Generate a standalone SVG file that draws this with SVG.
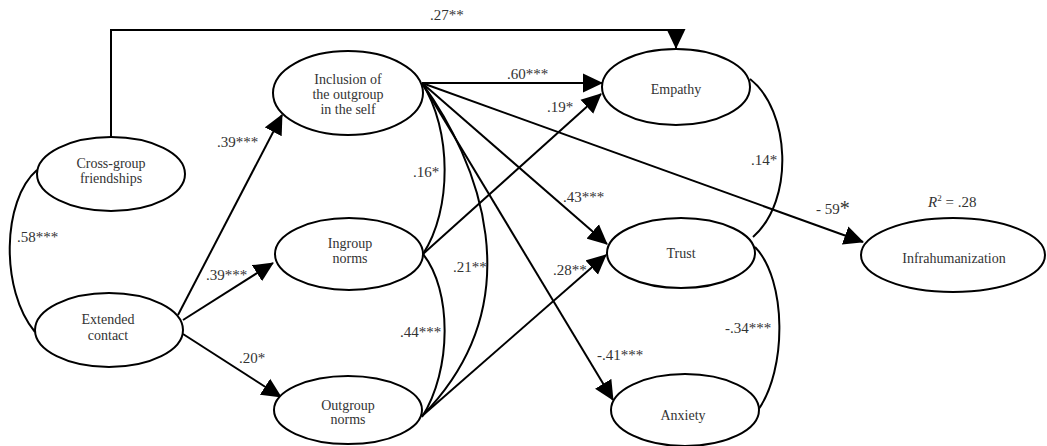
<svg xmlns="http://www.w3.org/2000/svg" width="1047" height="446" viewBox="0 0 1047 446">
<style>
.node ellipse{fill:#fff;stroke:#000;stroke-width:2}
.node text{font-family:"Liberation Serif","Times New Roman",serif;font-size:14px;fill:#333;text-anchor:middle}
.lbl{font-family:"Liberation Serif","Times New Roman",serif;font-size:15px;fill:#333}
.edge{fill:none;stroke:#000;stroke-width:2}
.arr{marker-end:url(#ah)}
</style>
<defs>
<marker id="ah" viewBox="0 0 20 20" markerWidth="20" markerHeight="20" markerUnits="userSpaceOnUse" refX="19" refY="10" orient="auto">
<path d="M0,0.5 L20,10 L0,19.5 z" fill="#000"/>
</marker>
</defs>
<rect width="1047" height="446" fill="#fff"/>
<g id="connectors">
<path class="edge arr" d="M111,137 V30 H676 V48"/>
<path class="edge" d="M37,170 C2,200 0,290 35,332"/>
<line class="edge arr" x1="178" y1="315" x2="282" y2="115"/>
<line class="edge arr" x1="183" y1="320" x2="273" y2="263"/>
<line class="edge arr" x1="183" y1="334" x2="281" y2="397"/>
<line class="edge arr" x1="422" y1="83" x2="602" y2="83"/>
<line class="edge arr" x1="422" y1="83" x2="863" y2="242"/>
<line class="edge arr" x1="422" y1="83" x2="607" y2="244"/>
<line class="edge arr" x1="422" y1="83" x2="613" y2="400"/>
<path class="edge" d="M422,83 C452,130 452,210 423,254"/>
<path class="edge" d="M422,83 C478,160 535,300 423,415"/>
<path class="edge" d="M423,254 C452,290 452,370 422,417"/>
<line class="edge arr" x1="423" y1="254" x2="601" y2="94"/>
<line class="edge arr" x1="422" y1="416" x2="606" y2="255"/>
<path class="edge" d="M750,79 C790,110 795,200 753,237"/>
<path class="edge" d="M755,247 C787,280 787,370 758,410"/>
</g>
<g id="labels">
<text class="lbl" x="430" y="20">.27**</text>
<text class="lbl" x="217" y="147">.39***</text>
<text class="lbl" x="413" y="177">.16*</text>
<text class="lbl" x="17" y="242">.58***</text>
<text class="lbl" x="206" y="280">.39***</text>
<text class="lbl" x="239" y="363">.20*</text>
<text class="lbl" x="400" y="337">.44***</text>
<text class="lbl" x="453" y="272">.21**</text>
<text class="lbl" x="553" y="275">.28**</text>
<text class="lbl" x="597" y="360">-.41***</text>
<text class="lbl" x="725" y="333">-.34***</text>
<text class="lbl" x="563" y="202">.43***</text>
<text class="lbl" x="547" y="112">.19*</text>
<text class="lbl" x="507" y="79">.60***</text>
<text class="lbl" x="751" y="165">.14*</text>
<text class="lbl" x="816" y="214">- 59<tspan font-size="20" dy="1">*</tspan></text>
<text class="lbl" x="928" y="207"><tspan font-style="italic">R</tspan><tspan font-size="9" dy="-6">2</tspan><tspan dy="6"> = .28</tspan></text>
</g>
<g id="cross-group" class="node">
<ellipse cx="111" cy="174" rx="74" ry="37"/>
<text x="111" y="168">Cross-group</text>
<text x="111" y="183">friendships</text>
</g>
<g id="extended" class="node">
<ellipse cx="109" cy="330" rx="74" ry="37"/>
<text x="108" y="324">Extended</text>
<text x="108" y="340">contact</text>
</g>
<g id="inclusion" class="node">
<ellipse cx="348" cy="93" rx="75" ry="42"/>
<text x="348" y="84">Inclusion of</text>
<text x="348" y="99">the  outgroup</text>
<text x="348" y="114">in the self</text>
</g>
<g id="ingroup" class="node">
<ellipse cx="349" cy="254" rx="74" ry="36"/>
<text x="350" y="248">Ingroup</text>
<text x="350" y="263">norms</text>
</g>
<g id="outgroup" class="node">
<ellipse cx="348" cy="410" rx="74" ry="34"/>
<text x="348" y="410">Outgroup</text>
<text x="348" y="424">norms</text>
</g>
<g id="empathy" class="node">
<ellipse cx="676" cy="87" rx="74" ry="38"/>
<text x="676" y="94">Empathy</text>
</g>
<g id="trust" class="node">
<ellipse cx="681" cy="253" rx="74" ry="35"/>
<text x="681" y="258">Trust</text>
</g>
<g id="anxiety" class="node">
<ellipse cx="685" cy="410" rx="74" ry="36"/>
<text x="683" y="420">Anxiety</text>
</g>
<g id="infrahumanization" class="node">
<ellipse cx="953" cy="255" rx="92" ry="37"/>
<text x="954" y="263">Infrahumanization</text>
</g>
</svg>
